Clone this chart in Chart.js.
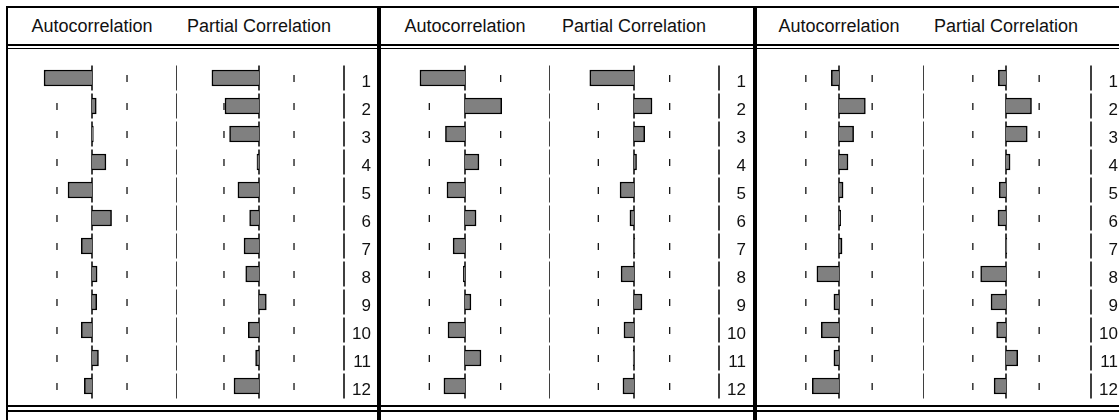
<!DOCTYPE html>
<html>
<head>
<meta charset="utf-8">
<script src="https://cdn.jsdelivr.net/npm/chart.js@4.4.1/dist/chart.umd.min.js"></script>
<style>
  html, body { margin: 0; padding: 0; background: #fff; }
  #page { position: relative; width: 1119px; height: 420px; overflow: hidden; font-family: "Liberation Sans", Arial, sans-serif; }
  .ln { position: absolute; background: #000; }
  .head { position: absolute; top: 15px; width: 220px; height: 22px; line-height: 22px; font-size: 18px; text-align: center; color: #111; white-space: nowrap; }
  canvas { position: absolute; }
</style>
</head>
<body>
<div id="page"></div>
<script>
// lags shown in each correlogram
const lags = ['1', '2', '3', '4', '5', '6', '7', '8', '9', '10', '11', '12'];

// correlogram values, one pair per panel
const acf1  = [-0.282, 0.025, 0.008, 0.082, -0.141, 0.115, -0.063, 0.030, 0.028, -0.063, 0.038, -0.045];
const pacf1 = [-0.277, -0.200, -0.173, -0.012, -0.124, -0.055, -0.088, -0.078, 0.043, -0.063, -0.020, -0.147];
const acf2  = [-0.265, 0.216, -0.115, 0.082, -0.106, 0.065, -0.070, -0.010, 0.035, -0.100, 0.094, -0.124];
const pacf2 = [-0.260, 0.106, 0.063, 0.015, -0.082, -0.024, 0.005, -0.076, 0.047, -0.059, -0.005, -0.065];
const acf3  = [-0.045, 0.155, 0.086, 0.053, 0.024, 0.010, 0.018, -0.130, -0.030, -0.104, -0.030, -0.157];
const pacf3 = [-0.045, 0.150, 0.125, 0.024, -0.040, -0.047, 0.005, -0.149, -0.088, -0.055, 0.069, -0.070];

// +/- 2 standard error bands for each panel
const bands = [0.206, 0.210, 0.195];

const headers = ['Autocorrelation', 'Partial Correlation'];

const page = document.getElementById('page');

// layout (pixels)
const acfZero  = [92, 465, 839];
const pacfZero = [259, 634, 1006];
const half = 85;          // pixels from zero to column edge (value 0.5)
const plotTop = 64;
const rowH = 28;

function addLine(x, y, w, h) {
  const d = document.createElement('div');
  d.className = 'ln';
  d.style.left = x + 'px'; d.style.top = y + 'px';
  d.style.width = w + 'px'; d.style.height = h + 'px';
  page.appendChild(d);
}

function addHead(text, cx) {
  const d = document.createElement('div');
  d.className = 'head';
  d.textContent = text;
  d.style.left = (cx - 110) + 'px';
  page.appendChild(d);
}

// frame lines
addLine(6, 6, 1113, 2);
addLine(6, 44, 1113, 2);
addLine(6, 48, 1113, 1);
addLine(6, 405, 1113, 2);
addLine(6, 410, 1113, 2);
addLine(6, 6, 2, 414);
addLine(377, 6, 4, 414);
addLine(753, 6, 4, 414);

const corrLines = {
  id: 'corrLines',
  beforeDatasetsDraw(chart, args, opts) {
    const ctx = chart.ctx;
    const xs = chart.scales.x, ys = chart.scales.y;
    ctx.save();
    ctx.strokeStyle = '#000';
    lags.forEach((lab, i) => {
      const yc = ys.getPixelForValue(i);
      ctx.lineWidth = 1.5;
      ctx.beginPath();
      const x0 = xs.getPixelForValue(0);
      ctx.moveTo(x0, yc - 12.5); ctx.lineTo(x0, yc + 12.5);
      const xe = xs.getPixelForValue(0.5);
      ctx.moveTo(xe, yc - 12.5); ctx.lineTo(xe, yc + 12.5);
      ctx.stroke();
      ctx.lineWidth = 1.2;
      ctx.beginPath();
      [-opts.band, opts.band].forEach(b => {
        const xb = xs.getPixelForValue(b);
        ctx.moveTo(xb, yc - 3); ctx.lineTo(xb, yc + 4);
      });
      ctx.stroke();
    });
    ctx.restore();
  },
  afterDatasetsDraw(chart, args, opts) {
    if (!opts.labels) return;
    const ctx = chart.ctx;
    const ys = chart.scales.y;
    ctx.save();
    ctx.fillStyle = '#111';
    ctx.font = '17px "Liberation Sans", Arial, sans-serif';
    ctx.textAlign = 'right';
    ctx.textBaseline = 'alphabetic';
    lags.forEach((lab, i) => {
      ctx.fillText(lab, chart.chartArea.right + 27, ys.getPixelForValue(i) + 8.5);
    });
    ctx.restore();
  }
};

function makeChart(zero, values, band, withLabels) {
  const c = document.createElement('canvas');
  const w = 2 * half + (withLabels ? 32 : 0);
  c.width = w; c.height = rowH * lags.length;
  c.style.left = (zero - half) + 'px';
  c.style.top = plotTop + 'px';
  c.style.width = w + 'px'; c.style.height = c.height + 'px';
  page.appendChild(c);
  new Chart(c.getContext('2d'), {
    type: 'bar',
    data: {
      labels: lags,
      datasets: [{
        data: values,
        backgroundColor: '#808080',
        borderColor: '#000',
        borderWidth: 1.5,
        barThickness: 16
      }]
    },
    options: {
      indexAxis: 'y',
      responsive: false,
      animation: false,
      devicePixelRatio: 1,
      layout: { padding: { left: 0, right: withLabels ? 32 : 0, top: 0, bottom: 0 } },
      scales: {
        x: { type: 'linear', min: -0.5, max: 0.5, display: false },
        y: { display: false, offset: true }
      },
      plugins: {
        legend: { display: false },
        tooltip: { enabled: false },
        corrLines: { band: band, labels: withLabels }
      }
    },
    plugins: [corrLines]
  });
}

const panels = [[acf1, pacf1], [acf2, pacf2], [acf3, pacf3]];
panels.forEach((p, k) => {
  addHead(headers[0], acfZero[k]);
  addHead(headers[1], pacfZero[k]);
  makeChart(acfZero[k], p[0], bands[k], false);
  makeChart(pacfZero[k], p[1], bands[k], true);
});
</script>
</body>
</html>
